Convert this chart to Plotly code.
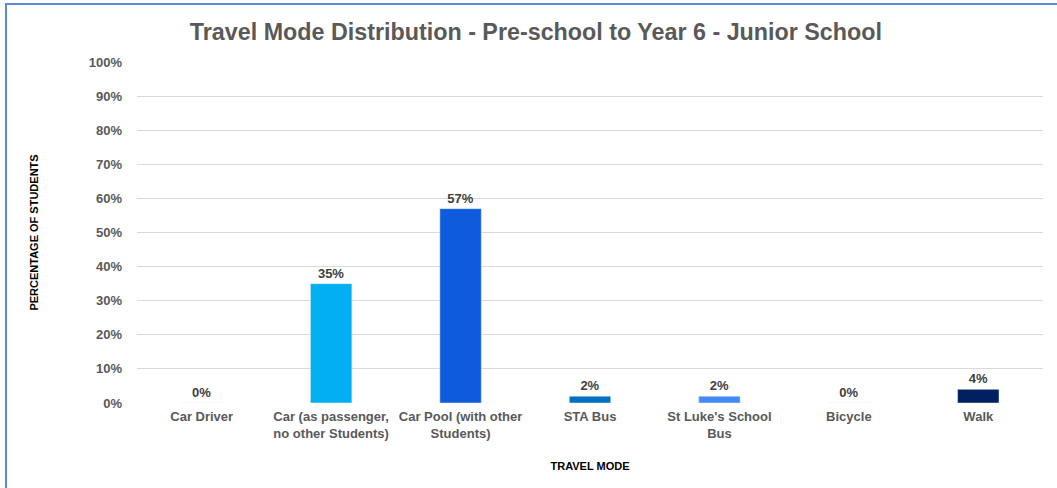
import plotly.graph_objects as go

categories = ["Car Driver", "Car (as passenger,<br>no other Students)", "Car Pool (with other<br>Students)",
              "STA Bus", "St Luke's School<br>Bus", "Bicycle", "Walk"]
values = [0, 35, 57, 2, 2, 0, 4]
labels = ["0%", "35%", "57%", "2%", "2%", "0%", "4%"]
colors = ["#00B0F0", "#00B0F0", "#0E5BDB", "#0070C0", "#4589F5", "#0E5BDB", "#002060"]
tick_vals = list(range(0, 101, 10))
tick_text = [f"{v}%" for v in tick_vals]

FONT = "Liberation Sans, Arial, sans-serif"

fig = go.Figure(go.Bar(
    x=categories, y=values, marker_color=colors, width=0.32,
    text=labels, textposition="outside", cliponaxis=False,
    textfont=dict(family=FONT, size=13, color="#404040", weight="bold"),
))

fig.update_layout(
    width=1057, height=488,
    margin=dict(l=137, r=14, t=62, b=85),
    paper_bgcolor="white", plot_bgcolor="white",
    font=dict(family=FONT),
    showlegend=False,
    title=dict(text="<b>Travel Mode Distribution - Pre-school to Year 6 - Junior School</b>",
               x=0.507, xanchor="center", y=0.935, yanchor="middle",
               font=dict(family=FONT, size=23.3, color="#595959")),
    bargap=0.68,
)
fig.update_yaxes(range=[0, 100], tickvals=tick_vals, ticktext=tick_text,
                 showgrid=True, gridcolor="#D9D9D9", gridwidth=1, zeroline=False,
                 showline=False, ticks="", ticklabelstandoff=14,
                 tickfont=dict(family=FONT, size=13, color="#595959", weight="bold"),
                 title=dict(text="<b>PERCENTAGE OF STUDENTS</b>", standoff=47,
                            font=dict(family=FONT, size=11, color="#000000")))
fig.update_xaxes(showline=False, ticks="", showgrid=False, ticklabelstandoff=4,
                 tickfont=dict(family=FONT, size=13, color="#595959", weight="bold"),
                 title=dict(text="<b>TRAVEL MODE</b>", standoff=22,
                            font=dict(family=FONT, size=11, color="#000000")))

# outer chart border (blue, like the source frame)
fig.add_shape(type="rect", xref="paper", yref="paper",
              x0=(6 - 137) / 906, x1=(1070 - 137) / 906,
              y0=(403 - 500) / 341, y1=(403 - 4) / 341,
              line=dict(color="#5B8BD6", width=2), fillcolor="rgba(0,0,0,0)", layer="below")

fig.write_html("out.html")
